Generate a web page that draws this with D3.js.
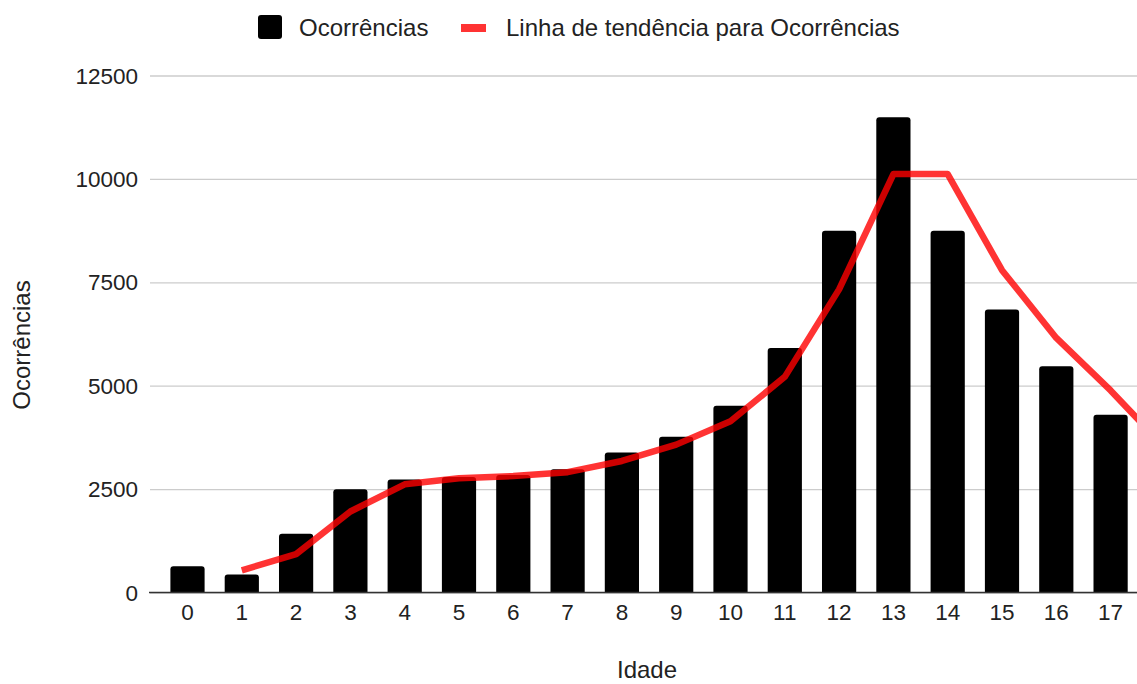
<!DOCTYPE html>
<html>
<head>
<meta charset="utf-8">
<script src="https://cdn.jsdelivr.net/npm/d3@7"></script>
<style>
    html, body { margin: 0; padding: 0; background: #fff; }
    #chart { width: 1137px; height: 684px; overflow: hidden; }
    text { font-family: Arial, "Liberation Sans", sans-serif; }
</style>
</head>
<body>
<div id="chart"></div>
<script>
// values
const ages = ["0", "1", "2", "3", "4", "5", "6", "7", "8", "9", "10", "11", "12", "13", "14", "15", "16", "17", "18"];
const occurrences = [636, 436, 1420, 2495, 2735, 2790, 2840, 2977, 3382, 3768, 4514, 5913, 8744, 11488, 8744, 6840, 5470, 4300, 2700];
const trendValues = [null, 536, 928, 1958, 2615, 2763, 2815, 2909, 3180, 3575, 4141, 5214, 7329, 10116, 10116, 7792, 6155, 4885, 3500];
const yTicks = [0, 2500, 5000, 7500, 10000, 12500];

const chartWidth = 1137, chartHeight = 684;
const plot = { left: 150, top: 75.5, bottom: 592.5, firstCenter: 187.5, step: 54.3 };
const tickFont = 22.5, titleFont = 24;

const legendItems = [
    { label: "Ocorrências", color: "#000" },
    { label: "Linha de tendência para Ocorrências", color: "rgba(255,0,0,0.8)" }
];

const renderChart = () => {
    const svg = d3.select("#chart").append("svg")
        .attr("width", chartWidth)
        .attr("height", chartHeight);

    const bandLeft = plot.firstCenter - plot.step / 2;
    const xScale = d3.scaleBand()
        .domain(ages)
        .range([bandLeft, bandLeft + plot.step * ages.length])
        .paddingInner(0.37)
        .paddingOuter(0.185);
    const xCenter = d => xScale(d) + xScale.bandwidth() / 2;

    const yScale = d3.scaleLinear()
        .domain([0, 12500])
        .range([plot.bottom, plot.top]);

    // gridlines
    svg.append("g")
        .attr("transform", `translate(${plot.left},0)`)
        .call(d3.axisLeft(yScale).tickValues(yTicks).tickSize(-(chartWidth + 60 - plot.left)).tickFormat(""))
        .call(g => g.select(".domain").remove())
        .call(g => g.selectAll("line").attr("stroke", "#ccc").attr("stroke-width", 1.3));

    // y tick labels
    svg.append("g")
        .selectAll("text")
        .data(yTicks)
        .join("text")
        .attr("x", 138)
        .attr("y", d => yScale(d))
        .attr("dy", "0.36em")
        .attr("text-anchor", "end")
        .attr("font-size", tickFont)
        .attr("fill", "#222")
        .text(d => d);

    // bars with rounded tops
    const r = 3;
    svg.append("g")
        .selectAll("path")
        .data(occurrences)
        .join("path")
        .attr("fill", "#000")
        .attr("d", (d, i) => {
            const x0 = xScale(ages[i]), w = xScale.bandwidth();
            const y0 = yScale(d), y1 = yScale(0);
            return `M${x0},${y1}V${y0 + r}Q${x0},${y0} ${x0 + r},${y0}H${x0 + w - r}Q${x0 + w},${y0} ${x0 + w},${y0 + r}V${y1}Z`;
        });

    // baseline
    svg.append("line")
        .attr("x1", plot.left - 1)
        .attr("x2", chartWidth + 10)
        .attr("y1", yScale(0))
        .attr("y2", yScale(0))
        .attr("stroke", "#333")
        .attr("stroke-width", 1.3);

    // trend line
    const line = d3.line()
        .defined(d => d != null)
        .x((d, i) => xCenter(ages[i]))
        .y(d => yScale(d));

    svg.append("path")
        .datum(trendValues)
        .attr("fill", "none")
        .attr("stroke", "rgba(255,0,0,0.8)")
        .attr("stroke-width", 6.5)
        .attr("stroke-linejoin", "round")
        .attr("d", line);

    // x tick labels (only the ones inside the visible area)
    svg.append("g")
        .selectAll("text")
        .data(ages.filter(d => xCenter(d) + 15 < chartWidth))
        .join("text")
        .attr("x", xCenter)
        .attr("y", 612)
        .attr("dy", "0.36em")
        .attr("text-anchor", "middle")
        .attr("font-size", tickFont)
        .attr("fill", "#222")
        .text(d => d);

    // axis titles
    svg.append("text")
        .attr("x", 647)
        .attr("y", 678)
        .attr("text-anchor", "middle")
        .attr("font-size", titleFont)
        .attr("fill", "#222")
        .text("Idade");

    svg.append("text")
        .attr("transform", "translate(21,345) rotate(-90)")
        .attr("dy", "0.36em")
        .attr("text-anchor", "middle")
        .attr("font-size", titleFont)
        .attr("fill", "#222")
        .text("Ocorrências");

    // legend
    const legend = svg.append("g");
    const item0 = legend.append("g");
    item0.append("rect")
        .attr("x", 258).attr("y", 15).attr("width", 24).attr("height", 24).attr("rx", 3)
        .attr("fill", legendItems[0].color);
    item0.append("text")
        .attr("x", 299).attr("y", 27).attr("dy", "0.36em")
        .attr("font-size", titleFont).attr("fill", "#222")
        .text(legendItems[0].label);

    const item1 = legend.append("g");
    item1.append("rect")
        .attr("x", 461).attr("y", 24).attr("width", 25).attr("height", 8)
        .attr("fill", legendItems[1].color);
    item1.append("text")
        .attr("x", 506).attr("y", 27).attr("dy", "0.36em")
        .attr("font-size", titleFont).attr("fill", "#222")
        .text(legendItems[1].label);
};

document.addEventListener("DOMContentLoaded", renderChart);
</script>
</body>
</html>
